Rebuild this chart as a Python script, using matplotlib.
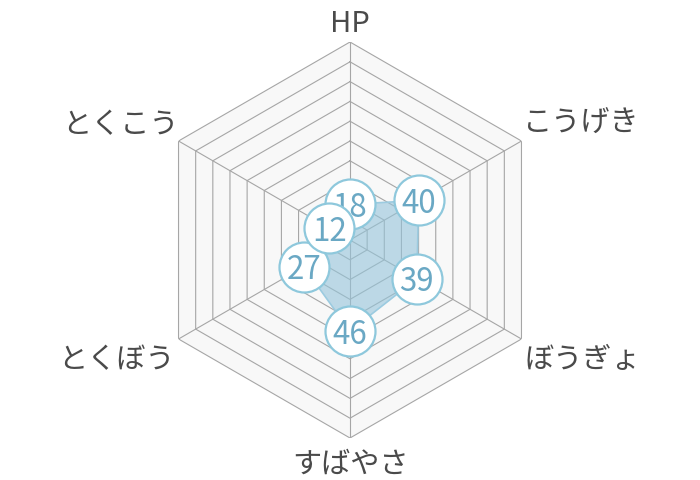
import numpy as np
import matplotlib
matplotlib.use("Agg")
import matplotlib.pyplot as plt

plt.rcParams['font.family'] = ['Noto Sans CJK JP', 'DejaVu Sans']

categories = ["HP", "こうげき", "ぼうぎょ", "すばやさ", "とくぼう", "とくこう"]
values = [18, 40, 39, 46, 27, 12]
rmax = 100
levels = list(range(10, 101, 10))

# label offsets in pixels (dx, dy) from the outer vertex
label_offsets = [(0, 21), (60, 21), (61, -18), (0, -23), (-62, -18), (-58, 19)]

n = len(categories)
theta = np.arange(n) * 2 * np.pi / n
theta_c = np.append(theta, theta[0])

fig = plt.figure(figsize=(7, 4.8), dpi=100)
ax = fig.add_axes([(350-198)/700, (480-240-198)/480, 396/700, 396/480],
                  projection='polar')
ax.set_theta_offset(np.pi/2)
ax.set_theta_direction(-1)
ax.set_ylim(0, rmax)
ax.set_axis_off()

grid_col = '#a6a6a6'
# background hexagon
ax.fill(theta_c, [rmax]*(n+1), color='#f8f8f8', zorder=0, lw=0)
for lv in levels:
    ax.plot(theta_c, [lv]*(n+1), color=grid_col, lw=0.8, zorder=1)
for t in theta:
    ax.plot([t, t], [0, rmax], color=grid_col, lw=0.8, zorder=1)

vals_c = values + values[:1]
ax.fill(theta_c, vals_c, color='#94c4da', alpha=0.6, lw=0, zorder=2)
ax.plot(theta_c, vals_c, color='#9ccbe0', lw=1.2, zorder=3)

for i, (t, v) in enumerate(zip(theta, values)):
    ax.plot([t], [v], 'o', ms=36, mfc='white', mec='#8ec8dc', mew=1.6,
            zorder=10 + 2*i, clip_on=False)
    ax.text(t, v, str(v), ha='center', va='center_baseline', fontsize=22.5,
            color='#6aa8c4', zorder=11 + 2*i, clip_on=False)

for t, lab, (dx, dy) in zip(theta, categories, label_offsets):
    ax.annotate(lab, xy=(t, rmax), xytext=(dx*0.72, dy*0.72),
                textcoords='offset points', ha='center', va='center_baseline',
                fontsize=21, color='#4a4a4a', annotation_clip=False)

fig.savefig('out.png', dpi=100, facecolor='white')
